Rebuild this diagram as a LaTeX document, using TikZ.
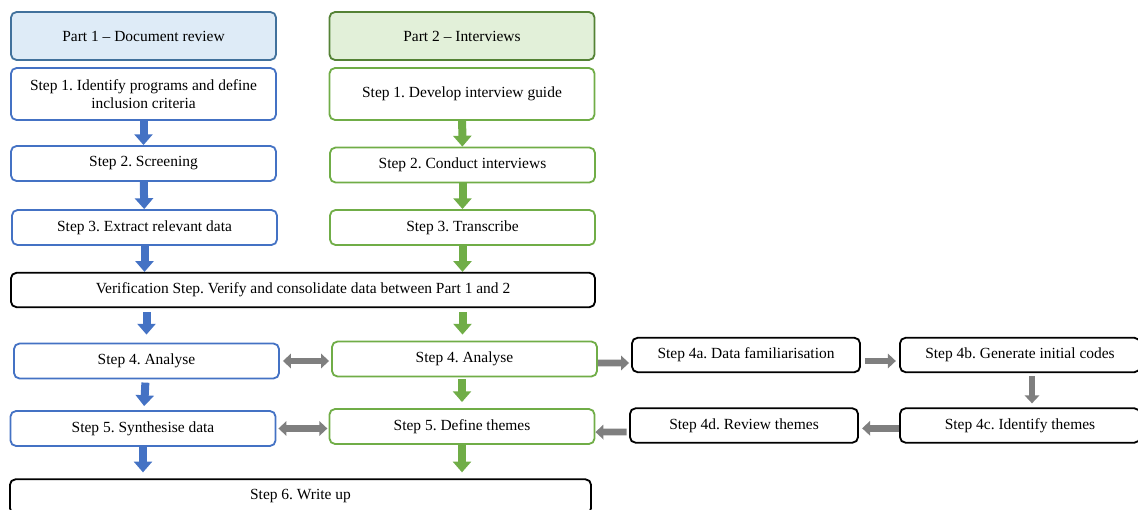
\documentclass[tikz,border=0pt]{standalone}
\usepackage{fontspec}
\setmainfont{Liberation Serif}
\usetikzlibrary{arrows.meta, positioning}

\definecolor{partblue}{HTML}{DEEBF7}
\definecolor{partblueline}{HTML}{41719C}
\definecolor{stepblue}{HTML}{4472C4}
\definecolor{partgreen}{HTML}{E2F0D9}
\definecolor{partgreenline}{HTML}{548235}
\definecolor{stepgreen}{HTML}{70AD47}
\definecolor{arrowgray}{HTML}{7F7F7F}

\frenchspacing

\begin{document}
\begin{tikzpicture}[
  x=0.025cm, y=-0.025cm,
  every node/.style={draw, rounded corners=0.14cm, line width=1.3pt, align=center, font=\fontsize{11}{12.5}\selectfont},
  colbox/.style={minimum width=6.625cm, minimum height=0.875cm},
  bluebox/.style={colbox, draw=stepblue},
  greenbox/.style={colbox, draw=stepgreen},
  partone/.style={colbox, minimum height=1.2cm, draw=partblueline, fill=partblue},
  parttwo/.style={colbox, minimum height=1.2cm, draw=partgreenline, fill=partgreen},
  blackbox/.style={draw=black, minimum height=0.86cm},
  bluearrow/.style={-{Triangle[width=0.45cm, length=0.27cm]}, line width=0.2cm, stepblue},
  greenarrow/.style={-{Triangle[width=0.45cm, length=0.27cm]}, line width=0.2cm, stepgreen},
  grayarrow/.style={-{Triangle[width=0.36cm, length=0.2cm]}, line width=0.17cm, arrowgray},
  graytwoway/.style={{Triangle[width=0.36cm, length=0.2cm]}-{Triangle[width=0.36cm, length=0.2cm]}, line width=0.17cm, arrowgray}
]
\useasboundingbox (0,0) rectangle (1138,510);

% Part 1
\node[partone] (part1) at (143.5,36) {Part 1 -- Document review};
\node[bluebox, minimum height=1.3cm] (l1) at (143.5,94) {Step 1. Identify programs and define\\inclusion criteria};
\node[bluebox] (l2) at (143.5,163.5) {Step 2. Screening};
\node[bluebox] (l3) at (144.5,227.5) {Step 3. Extract relevant data};

% Part 2
\node[parttwo] (part2) at (462,36) {Part 2 -- Interviews};
\node[greenbox, minimum height=1.3cm] (g1) at (462,94) {Step 1. Develop interview guide};
\node[greenbox] (g2) at (462.5,165) {Step 2. Conduct interviews};
\node[greenbox] (g3) at (462.5,227.5) {Step 3. Transcribe};

% Verification
\node[blackbox, minimum width=14.6cm] (ver) at (303,290) {Verification Step. Verify and consolidate data between Part 1 and 2};

\node[bluebox] (l4) at (146.5,361) {Step 4. Analyse};
\node[bluebox] (l5) at (143,428.5) {Step 5. Synthesise data};
\node[greenbox] (g4) at (464.5,359) {Step 4. Analyse};
\node[greenbox] (g5) at (462,426.5) {Step 5. Define themes};

% Step 4 sub-steps
\node[blackbox, minimum width=5.7cm] (a4) at (746,355) {Step 4a. Data familiarisation};
\node[blackbox, minimum width=6cm] (b4) at (1020,355) {Step 4b. Generate initial codes};
\node[blackbox, minimum width=6cm] (c4) at (1020,425.5) {Step 4c. Identify themes};
\node[blackbox, minimum width=5.7cm] (d4) at (744,425.5) {Step 4d. Review themes};

\node[blackbox, minimum width=14.525cm] (s6) at (300.5,496.5) {Step 6. Write up};

% Arrows
\draw[bluearrow] (l1) -- (l2);
\draw[bluearrow] (l2) -- (l3);
\draw[bluearrow] (l3.south) -- (l3.south |- ver.north);
\draw[bluearrow, shorten <=0.1cm, shorten >=0.2cm] (ver.south -| l4.north) -- (l4.north);
\draw[bluearrow, shorten <=0.08cm, shorten >=0.1cm] (l4) -- (l5);
\draw[bluearrow, shorten >=0.15cm] (l5.south) -- (l5.south |- s6.north);

\draw[greenarrow] (g1) -- (g2);
\draw[greenarrow] (g2) -- (g3);
\draw[greenarrow] (g3.south) -- (g3.south |- ver.north);
\draw[greenarrow, shorten <=0.1cm, shorten >=0.15cm] (ver.south -| g3.south) -- (g4.north -| g3.south);
\draw[greenarrow, shorten <=0.05cm, shorten >=0.15cm] (g4.south -| g5.north) -- (g5.north);
\draw[greenarrow, shorten >=0.15cm] (g5.south) -- (g5.south |- s6.north);

\draw[graytwoway, shorten <=0.075cm, shorten >=0.05cm] (l4.east) -- (l4.east -| g4.west);
\draw[graytwoway, shorten <=0.05cm, shorten >=0.03cm] (l5.east) -- (l5.east -| g5.west);
\draw[grayarrow, shorten >=0.05cm] ([yshift=-0.1cm]g4.east) -- ([yshift=-0.2cm]a4.west);
\draw[grayarrow, shorten <=0.1cm, shorten >=0.08cm] ([yshift=-0.15cm]a4.east) -- ([yshift=-0.15cm]b4.west);
\draw[grayarrow, shorten <=0.08cm, shorten >=0.1cm] ([xshift=0.3cm]b4.south) -- ([xshift=0.3cm]c4.north);
\draw[grayarrow, shorten >=0.08cm] ([yshift=-0.07cm]c4.west) -- ([yshift=-0.07cm]d4.east);
\draw[grayarrow, shorten <=0.06cm] ([yshift=-0.16cm]d4.west) -- ([yshift=-0.14cm]g5.east);

\end{tikzpicture}
\end{document}
